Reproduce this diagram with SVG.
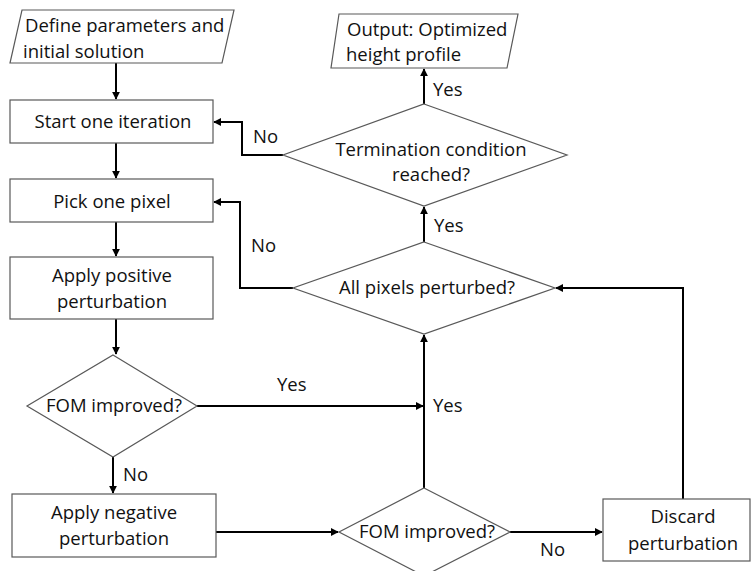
<svg xmlns="http://www.w3.org/2000/svg" width="751" height="571" viewBox="0 0 751 571">
<style>
.shape{fill:#fff;stroke:#595959;stroke-width:1.2}
.t{font-family:"Open Sans","Liberation Sans",sans-serif;font-size:18.5px;fill:#111}
.c{text-anchor:middle}
.con path{fill:none;stroke:#000;stroke-width:2}
</style>
<defs>
<marker id="ah" viewBox="0 0 10 10" refX="9" refY="5" markerWidth="4" markerHeight="4" orient="auto" markerUnits="strokeWidth">
<path d="M0,0 L10,5 L0,10 z" fill="#000"/>
</marker>
</defs>
<rect width="751" height="571" fill="#fff"/>
<g class="con">
<path d="M116,63 V99" marker-end="url(#ah)"/>
<path d="M116,143 V178" marker-end="url(#ah)"/>
<path d="M116,222 V256" marker-end="url(#ah)"/>
<path d="M116,319 V354" marker-end="url(#ah)"/>
<path d="M113,457 V493" marker-end="url(#ah)"/>
<path d="M197,406 H423" marker-end="url(#ah)"/>
<path d="M216,532 H338" marker-end="url(#ah)"/>
<path d="M510,532 H602" marker-end="url(#ah)"/>
<path d="M424,488 V335" marker-end="url(#ah)"/>
<path d="M424,242 V207" marker-end="url(#ah)"/>
<path d="M424,104 V69" marker-end="url(#ah)"/>
<path d="M683,499 V288 H556" marker-end="url(#ah)"/>
<path d="M293,288 H240 V202 H214" marker-end="url(#ah)"/>
<path d="M283,155 H242 V122 H214" marker-end="url(#ah)"/>
</g>
<g id="define">
<polygon class="shape" points="22,10 234,10 222,63 10,63"/>
<text class="t" x="25" y="32">Define parameters and</text>
<text class="t" x="23" y="58">initial solution</text>
</g>
<g id="start">
<rect class="shape" x="10" y="100" width="203" height="43"/>
<text class="t c" x="113" y="128">Start one iteration</text>
</g>
<g id="pick">
<rect class="shape" x="10" y="179" width="203" height="43"/>
<text class="t c" x="112" y="208">Pick one pixel</text>
</g>
<g id="positive">
<rect class="shape" x="10" y="257" width="203" height="62"/>
<text class="t c" x="112" y="282">Apply positive</text>
<text class="t c" x="112" y="308">perturbation</text>
</g>
<g id="fom1">
<polygon class="shape" points="113,355 197,406 113,457 27,406"/>
<text class="t c" x="114" y="412">FOM improved?</text>
</g>
<g id="negative">
<rect class="shape" x="12" y="494" width="204" height="63"/>
<text class="t c" x="114" y="519">Apply negative</text>
<text class="t c" x="114" y="545">perturbation</text>
</g>
<g id="fom2">
<polygon class="shape" points="424,488 510,532 424,576 339,532"/>
<text class="t c" x="427" y="538">FOM improved?</text>
</g>
<g id="discard">
<rect class="shape" x="603" y="499" width="147" height="62"/>
<text class="t c" x="683" y="523">Discard</text>
<text class="t c" x="683" y="550">perturbation</text>
</g>
<g id="allpixels">
<polygon class="shape" points="424,242 555,288 424,334 293,288"/>
<text class="t c" x="427" y="294">All pixels perturbed?</text>
</g>
<g id="termination">
<polygon class="shape" points="424,104 567,155 424,206 283,155"/>
<text class="t c" x="431" y="156">Termination condition</text>
<text class="t c" x="431" y="181">reached?</text>
</g>
<g id="output">
<polygon class="shape" points="339,14 518,14 507,68 331,68"/>
<text class="t" x="347" y="36">Output: Optimized</text>
<text class="t" x="346" y="61">height profile</text>
</g>
<g id="labels">
<text class="t" x="253" y="143">No</text>
<text class="t" x="433" y="96">Yes</text>
<text class="t" x="251" y="252">No</text>
<text class="t" x="434" y="232">Yes</text>
<text class="t" x="277" y="391">Yes</text>
<text class="t" x="433" y="412">Yes</text>
<text class="t" x="123" y="481">No</text>
<text class="t" x="540" y="556">No</text>
</g>
</svg>
